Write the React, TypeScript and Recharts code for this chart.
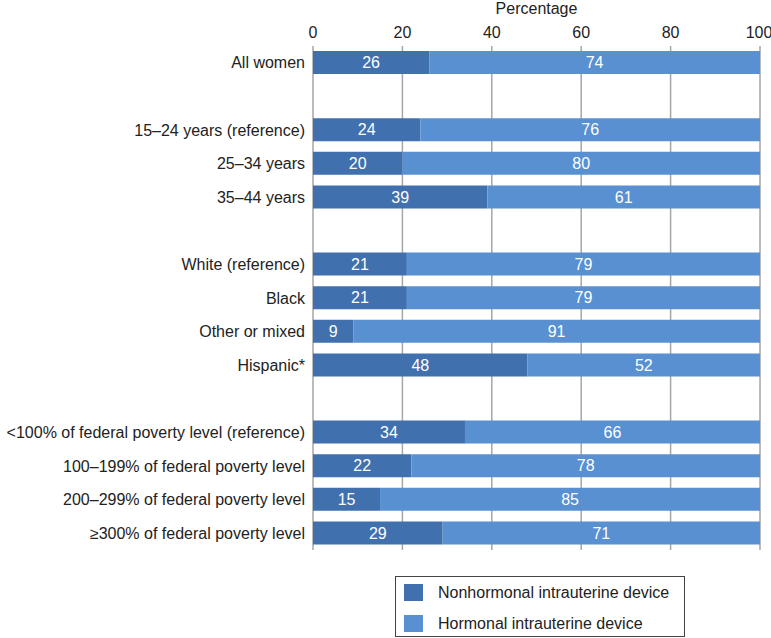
import React from "react";
import { Bar, BarChart, CartesianGrid, LabelList, Legend, XAxis, YAxis } from "recharts";

// row labels, "" = empty spacer row between groups
const categories = [
  "All women",
  "",
  "15–24 years (reference)",
  "25–34 years",
  "35–44 years",
  "",
  "White (reference)",
  "Black",
  "Other or mixed",
  "Hispanic*",
  "",
  "<100% of federal poverty level (reference)",
  "100–199% of federal poverty level",
  "200–299% of federal poverty level",
  "≥300% of federal poverty level",
];

const nonhormonal = [26, null, 24, 20, 39, null, 21, 21, 9, 48, null, 34, 22, 15, 29];
const hormonal = [74, null, 76, 80, 61, null, 79, 79, 91, 52, null, 66, 78, 85, 71];

const xTicks = [0, 20, 40, 60, 80, 100];

const DARK = "#4070AE";
const LIGHT = "#5890D2";
const FONT = "'Liberation Sans', Arial, sans-serif";

if (typeof document !== "undefined") document.body.style.margin = "0";

const data = categories.map((name, i) => ({
  name,
  nonhormonal: nonhormonal[i],
  hormonal: hormonal[i],
}));

const legendItems = [
  { label: "Nonhormonal intrauterine device", color: DARK },
  { label: "Hormonal intrauterine device", color: LIGHT },
];

const LegendBox = () => (
  <div
    style={{
      border: "1px solid #444",
      boxSizing: "border-box",
      width: 290,
      height: 61,
      padding: "0 0 0 8px",
      fontFamily: FONT,
      fontSize: 16,
      color: "#222",
      background: "#fff",
    }}
  >
    {legendItems.map((it) => (
      <div key={it.label} style={{ display: "flex", alignItems: "center", height: 31 }}>
        <span style={{ width: 19, height: 17, background: it.color, marginRight: 15, display: "inline-block" }} />
        <span>{it.label}</span>
      </div>
    ))}
  </div>
);

export default function App() {
  return (
    <div style={{ width: 771, height: 638, position: "relative", background: "#fff" }}>
      <BarChart
        width={771}
        height={638}
        data={data}
        layout="vertical"
        margin={{ top: 0, right: 11, bottom: 88, left: 0 }}
        barSize={23}
        style={{ fontFamily: FONT }}
      >
        <CartesianGrid horizontal={false} stroke="#a6a6a6" strokeWidth={1.5} />
        <XAxis
          type="number"
          orientation="top"
          domain={[0, 100]}
          ticks={xTicks}
          height={46}
          axisLine={false}
          tickLine={false}
          tick={{ fill: "#222", fontSize: 16 }}
          label={{ value: "Percentage", position: "insideTop", offset: 3, fill: "#222", fontSize: 16 }}
        />
        <YAxis
          type="category"
          dataKey="name"
          width={313}
          axisLine={false}
          tickLine={false}
          interval={0}
          tick={{ fill: "#222", fontSize: 16 }}
        />
        <Legend
          layout="vertical"
          align="center"
          verticalAlign="middle"
          wrapperStyle={{ left: 395, top: 576, width: 290, height: 61 }}
          content={() => <LegendBox />}
        />
        <Bar dataKey="nonhormonal" stackId="a" fill={DARK} isAnimationActive={false}>
          <LabelList dataKey="nonhormonal" position="center" fill="#fff" fontSize={16} />
        </Bar>
        <Bar dataKey="hormonal" stackId="a" fill={LIGHT} isAnimationActive={false}>
          <LabelList dataKey="hormonal" position="center" fill="#fff" fontSize={16} />
        </Bar>
      </BarChart>
    </div>
  );
}
